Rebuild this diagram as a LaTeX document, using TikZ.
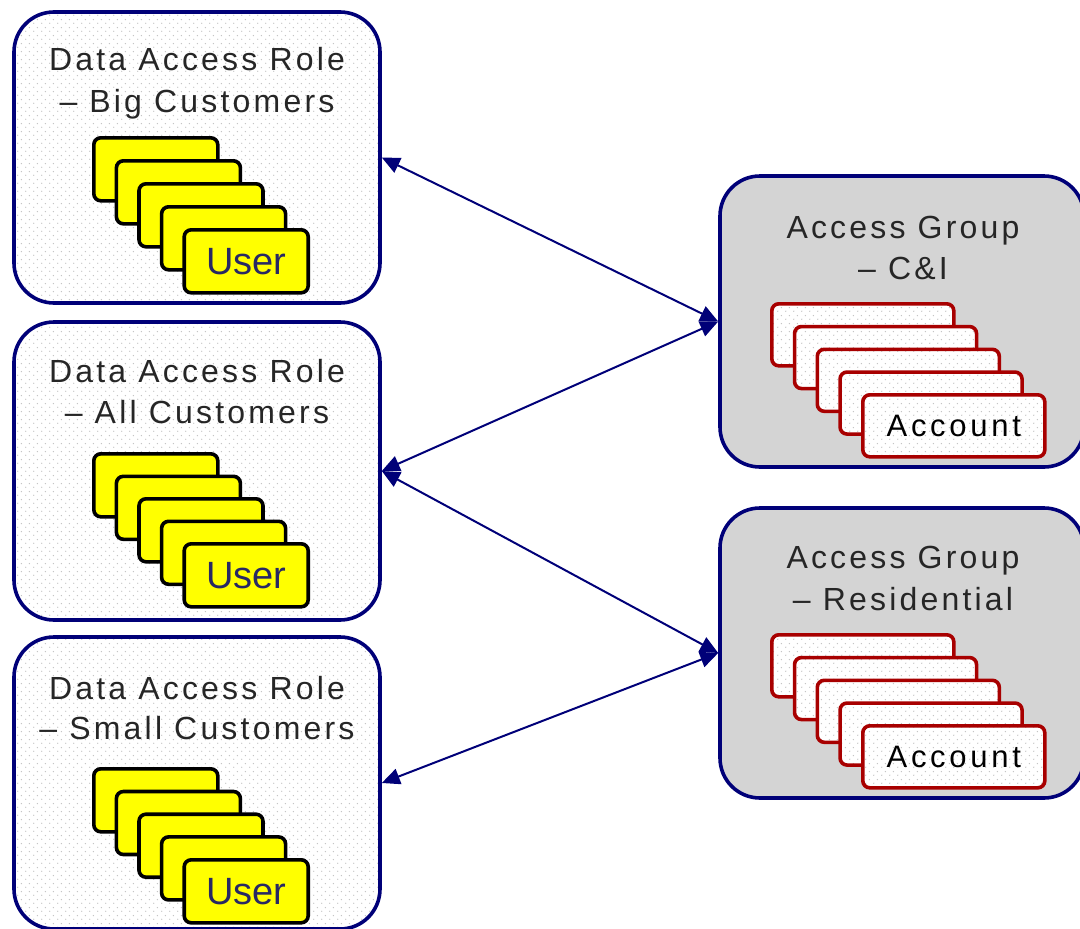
\documentclass[tikz,border=0pt]{standalone}
\usepackage{fontspec}
\setmainfont{Liberation Sans}
\newfontfamily\titlefont[LetterSpace=10]{Liberation Sans}
\newfontfamily\acctfont[LetterSpace=12]{Liberation Sans}
\usetikzlibrary{arrows.meta,patterns.meta}
\definecolor{boxnavy}{RGB}{0,0,120}
\definecolor{cardred}{RGB}{168,0,0}
\definecolor{useryellow}{RGB}{255,255,0}
\definecolor{grpfill}{RGB}{212,212,212}
\definecolor{usertext}{RGB}{40,40,100}
\pgfdeclarepattern{name=sparsedots, type=uncolored,
  bottom left={\pgfpoint{0pt}{0pt}}, top right={\pgfpoint{8pt}{8pt}},
  tile size={\pgfpoint{8pt}{8pt}},
  code={\pgfpathcircle{\pgfpoint{2pt}{2pt}}{0.75pt}\pgfpathcircle{\pgfpoint{6pt}{6pt}}{0.75pt}\pgfusepath{fill}}}
\tikzset{
  rolebox/.style={preaction={fill=white}, pattern=sparsedots, pattern color=gray!50,
    draw=boxnavy, line width=3.6pt, rounded corners=40pt, minimum width=366pt, inner sep=0pt},
  grpbox/.style={fill=grpfill, draw=boxnavy, line width=3.6pt, rounded corners=40pt,
    minimum width=364pt, inner sep=0pt},
  usercard/.style={fill=useryellow, draw=black, line width=3.6pt, rounded corners=7pt,
    minimum width=124pt, minimum height=63pt, inner sep=0pt, anchor=north west,
    text=usertext, font=\fontsize{38}{40}\selectfont},
  acctcard/.style={preaction={fill=white}, pattern=sparsedots, pattern color=gray!50,
    draw=cardred, line width=3.6pt, rounded corners=7pt,
    minimum width=182pt, minimum height=62pt, inner sep=0pt, anchor=north west,
    font=\acctfont\fontsize{31}{33}\selectfont},
  titletext/.style={anchor=base, inner sep=0pt, font=\titlefont\fontsize{32}{34}\selectfont, text=black!85},
  conn/.style={draw=boxnavy, line width=2pt,
    {Triangle[length=18pt,width=16pt]}-{Triangle[length=18pt,width=16pt]}}
}
\begin{document}
\begin{tikzpicture}[x=1pt,y=-1pt]
\useasboundingbox (0,0) rectangle (1080,929);
% Data access role boxes
\node[rolebox, minimum height=291pt] (r1) at (197,157.5) {};
\node[rolebox, minimum height=298pt] (r2) at (197,471) {};
\node[rolebox, minimum height=292pt] (r3) at (197,783) {};
% Access group boxes
\node[grpbox, minimum height=291pt] (g1) at (902,321.5) {};
\node[grpbox, minimum height=290pt] (g2) at (902,653) {};
% titles
\node[titletext] (r1t1) at (197,70) {Data Access Role};
\node[titletext] (r1t2) at (197,112) {– Big Customers};
\node[titletext] (r2t1) at (197,382) {Data Access Role};
\node[titletext] (r2t2) at (197,423) {– All Customers};
\node[titletext] (r3t1) at (197,699) {Data Access Role};
\node[titletext] (r3t2) at (197,739) {– Small Customers};
\node[titletext] (g1t1) at (903,238) {Access Group};
\node[titletext] (g1t2) at (903,279) {– C\&I};
\node[titletext] (g2t1) at (903,568) {Access Group};
\node[titletext] (g2t2) at (903,610) {– Residential};
% user card stacks
\foreach \i in {0,...,3} {
  \node[usercard] (ua\i) at ({92+22.6*\i},{136+23*\i}) {};
}
\node[usercard] (ua4) at (182.4,228) {User};
\foreach \i in {0,...,3} {
  \node[usercard] (ub\i) at ({92+22.6*\i},{452+22.5*\i}) {};
}
\node[usercard] (ub4) at (182.4,542) {User};
\foreach \i in {0,...,3} {
  \node[usercard] (uc\i) at ({92+22.6*\i},{767+22.7*\i}) {};
}
\node[usercard] (uc4) at (182.4,858) {User};
% account card stacks
\foreach \i in {0,...,3} {
  \node[acctcard] (aa\i) at ({770+22.75*\i},{302+22.75*\i}) {};
}
\node[acctcard] (aa4) at (861,393) {Account};
\foreach \i in {0,...,3} {
  \node[acctcard] (ab\i) at ({770+22.75*\i},{633+22.75*\i}) {};
}
\node[acctcard] (ab4) at (861,724) {Account};
% connectors
\draw[conn] (r1.east) -- (g1.west);
\draw[conn] (g1.west) -- (r2.east);
\draw[conn] (r2.east) -- (g2.west);
\draw[conn] (g2.west) -- (r3.east);
\end{tikzpicture}
\end{document}
